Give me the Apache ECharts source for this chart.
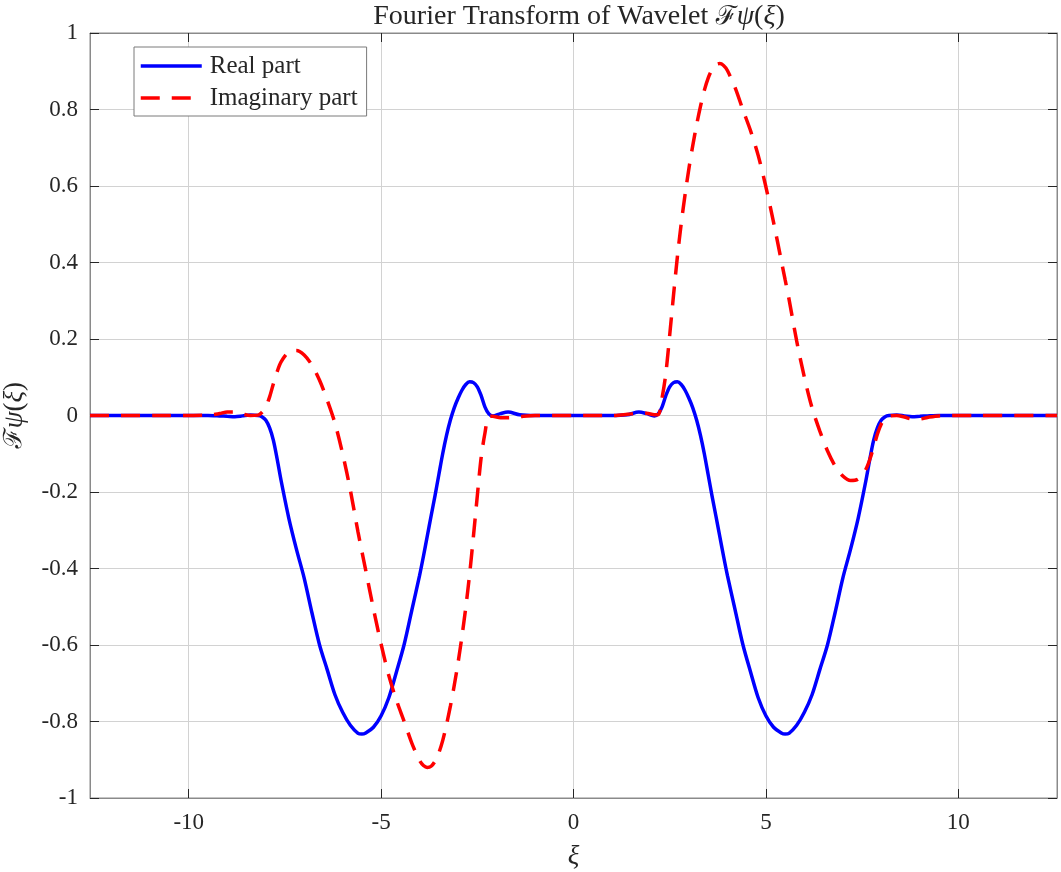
<!DOCTYPE html>
<html>
<head>
<meta charset="utf-8">
<script src="https://cdn.jsdelivr.net/npm/echarts@6/dist/echarts.min.js"></script>
<style>
html,body{margin:0;padding:0;background:#fff;}
#chart{width:1061px;height:872px;}
</style>
</head>
<body>
<div id="chart"></div>
<script>
// ---- data ----
const xi = [-12.566, -10.5, -9.5, -9.2, -9.0, -8.8, -8.6, -8.4, -8.2, -8.1, -8.0, -7.9, -7.8, -7.7, -7.6, -7.4, -7.2, -7.0, -6.8, -6.6,
  -6.4, -6.2, -6.0, -5.8, -5.6, -5.5, -5.4, -5.2, -5.0, -4.8, -4.6, -4.4, -4.2, -4.0, -3.9, -3.8, -3.7, -3.6, -3.5, -3.4,
  -3.3, -3.2, -3.1, -3.0, -2.9, -2.8, -2.7, -2.6, -2.5, -2.4, -2.3, -2.2, -2.1, -1.9, -1.7, -1.4, -1.0, 0,
  1.0, 1.4, 1.7, 1.9, 2.1, 2.2, 2.3, 2.4, 2.5, 2.6, 2.7, 2.8, 2.9, 3.0, 3.1, 3.2, 3.3, 3.4, 3.5, 3.6,
  3.7, 3.8, 3.9, 4.0, 4.2, 4.4, 4.6, 4.8, 5.0, 5.2, 5.4, 5.5, 5.6, 5.8, 6.0, 6.2, 6.4, 6.6, 6.8, 7.0,
  7.2, 7.4, 7.6, 7.7, 7.8, 7.9, 8.0, 8.1, 8.2, 8.4, 8.6, 8.8, 9.0, 9.2, 9.5, 10.5, 12.566];

const realPart = [0, 0, 0, -0.001, -0.002, -0.003, -0.001, 0.001, 0, -0.003, -0.012, -0.032, -0.065, -0.115, -0.17, -0.268, -0.35, -0.425, -0.515, -0.6,
  -0.665, -0.73, -0.776, -0.81, -0.831, -0.833, -0.83, -0.815, -0.785, -0.738, -0.67, -0.598, -0.508, -0.418, -0.368, -0.315, -0.262, -0.21, -0.155, -0.1,
  -0.052, -0.012, 0.02, 0.045, 0.066, 0.081, 0.088, 0.086, 0.075, 0.052, 0.022, 0.004, -0.001, 0.005, 0.009, 0.002, 0, 0,
  0, 0.002, 0.009, 0.005, -0.001, 0.004, 0.022, 0.052, 0.075, 0.086, 0.088, 0.081, 0.066, 0.045, 0.02, -0.012, -0.052, -0.1, -0.155, -0.21,
  -0.262, -0.315, -0.368, -0.418, -0.508, -0.598, -0.67, -0.738, -0.785, -0.815, -0.83, -0.833, -0.831, -0.81, -0.776, -0.73, -0.665, -0.6, -0.515, -0.425,
  -0.35, -0.268, -0.17, -0.115, -0.065, -0.032, -0.012, -0.003, 0, 0.001, -0.001, -0.003, -0.002, -0.001, 0, 0, 0];

const imagPart = [0, 0, 0.001, 0.005, 0.009, 0.009, 0.004, 0, 0.001, 0.008, 0.022, 0.048, 0.083, 0.115, 0.14, 0.166, 0.17, 0.158, 0.132, 0.092,
  0.04, -0.02, -0.1, -0.195, -0.305, -0.355, -0.405, -0.505, -0.598, -0.68, -0.745, -0.8, -0.857, -0.902, -0.915, -0.92, -0.917, -0.904, -0.882, -0.85,
  -0.808, -0.76, -0.706, -0.646, -0.578, -0.502, -0.415, -0.315, -0.21, -0.11, -0.045, -0.002, -0.002, -0.006, -0.006, -0.003, 0, 0,
  0, 0.003, 0.006, 0.006, 0.002, 0.002, 0.045, 0.11, 0.21, 0.315, 0.415, 0.502, 0.578, 0.646, 0.706, 0.76, 0.808, 0.85, 0.882, 0.904,
  0.917, 0.92, 0.915, 0.902, 0.857, 0.8, 0.745, 0.68, 0.598, 0.505, 0.405, 0.355, 0.305, 0.195, 0.1, 0.02, -0.04, -0.092, -0.132, -0.158,
  -0.17, -0.166, -0.14, -0.115, -0.083, -0.048, -0.022, -0.008, -0.001, 0, -0.004, -0.009, -0.009, -0.005, -0.001, 0, 0];

const xTicks = [-10, -5, 0, 5, 10];
const seriesNames = ['Real part', 'Imaginary part'];
const xMin = -4 * Math.PI, xMax = 4 * Math.PI;

// ---- chart ----
const FONT = "'Liberation Serif', 'Times New Roman', 'DejaVu Serif', serif";
const TXT = '#262626';
const chart = echarts.init(document.getElementById('chart'), null, {renderer: 'canvas'});

const realData = xi.map((x, i) => [x, realPart[i]]);
const imagData = xi.map((x, i) => [x, imagPart[i]]);

function rich(sz) {
  return {
    n: {fontFamily: FONT, fontSize: sz, fontWeight: 'normal', color: TXT},
    s: {fontFamily: "'DejaVu Serif', 'Noto Sans', serif", fontStyle: 'italic', fontWeight: 'normal', fontSize: sz - 2, color: TXT},
    i: {fontFamily: FONT, fontStyle: 'italic', fontWeight: 'normal', fontSize: sz, color: TXT}
  };
}

chart.setOption({
  animation: false,
  backgroundColor: '#fff',
  title: {
    text: '{n|Fourier Transform of Wavelet }{s|ℱ}{i|ψ}{n|(}{i|ξ}{n|)}',
    left: 574, top: -2, textAlign: 'center',
    textStyle: {fontWeight: 'normal', rich: rich(28)}
  },
  legend: {
    orient: 'vertical',
    left: 134, top: 47,
    padding: [5, 9, 4, 5],
    itemWidth: 61, itemHeight: 14, itemGap: 4,
    backgroundColor: '#fff',
    borderColor: '#7a7a7a', borderWidth: 1,
    itemStyle: {opacity: 0},
    lineStyle: {width: 3.5},
    textStyle: {fontFamily: FONT, fontSize: 25, color: TXT, lineHeight: 28, padding: [0, 0, 0, 3]},
    data: seriesNames
  },
  grid: {left: 90, right: 4, top: 33, bottom: 74, show: true, borderColor: '#8a8a8a', borderWidth: 1, outerBoundsMode: 'none', containLabel: false},
  xAxis: [{
    type: 'value', min: xMin, max: xMax, position: 'bottom',
    name: '{i|ξ}', nameLocation: 'middle', nameGap: 45,
    nameTextStyle: {rich: rich(27)},
    axisLine: {show: true, onZero: false, lineStyle: {color: '#8a8a8a', width: 1}},
    axisTick: {show: true, inside: true, length: 9, customValues: xTicks, lineStyle: {color: TXT}},
    axisLabel: {customValues: xTicks, fontFamily: FONT, fontSize: 23, color: TXT, margin: 13},
    splitLine: {show: true, lineStyle: {color: '#d2d2d2', width: 1}}
  }, {
    type: 'value', min: xMin, max: xMax, position: 'top',
    axisLine: {show: true, onZero: false, lineStyle: {color: '#8a8a8a', width: 1}},
    axisTick: {show: true, inside: true, length: 9, customValues: xTicks, lineStyle: {color: TXT}},
    axisLabel: {show: false},
    splitLine: {show: false}
  }],
  yAxis: [{
    type: 'value', min: -1, max: 1, interval: 0.2, position: 'left',
    name: '{s|ℱ}{i|ψ}{n|(}{i|ξ}{n|)}', nameLocation: 'middle', nameGap: 62, nameRotate: 90,
    nameTextStyle: {rich: rich(27)},
    axisLine: {show: true, onZero: false, lineStyle: {color: '#8a8a8a', width: 1}},
    axisTick: {show: true, inside: true, length: 9, lineStyle: {color: TXT}},
    axisLabel: {fontFamily: FONT, fontSize: 23, color: TXT, margin: 12},
    splitLine: {show: true, lineStyle: {color: '#d2d2d2', width: 1}}
  }, {
    type: 'value', min: -1, max: 1, interval: 0.2, position: 'right',
    axisLine: {show: true, onZero: false, lineStyle: {color: '#8a8a8a', width: 1}},
    axisTick: {show: true, inside: true, length: 9, lineStyle: {color: TXT}},
    axisLabel: {show: false},
    splitLine: {show: false}
  }],
  series: [{
    name: seriesNames[0], type: 'line', xAxisIndex: 0, yAxisIndex: 0,
    data: realData, symbol: 'none', smooth: 0.3,
    lineStyle: {color: '#0000ff', width: 3.5},
    itemStyle: {color: '#0000ff'}
  }, {
    name: seriesNames[1], type: 'line', xAxisIndex: 0, yAxisIndex: 0,
    data: imagData, symbol: 'none', smooth: 0.3,
    lineStyle: {color: '#ff0000', width: 3.5, type: [19, 12]},
    itemStyle: {color: '#ff0000'}
  }]
});
</script>
</body>
</html>
